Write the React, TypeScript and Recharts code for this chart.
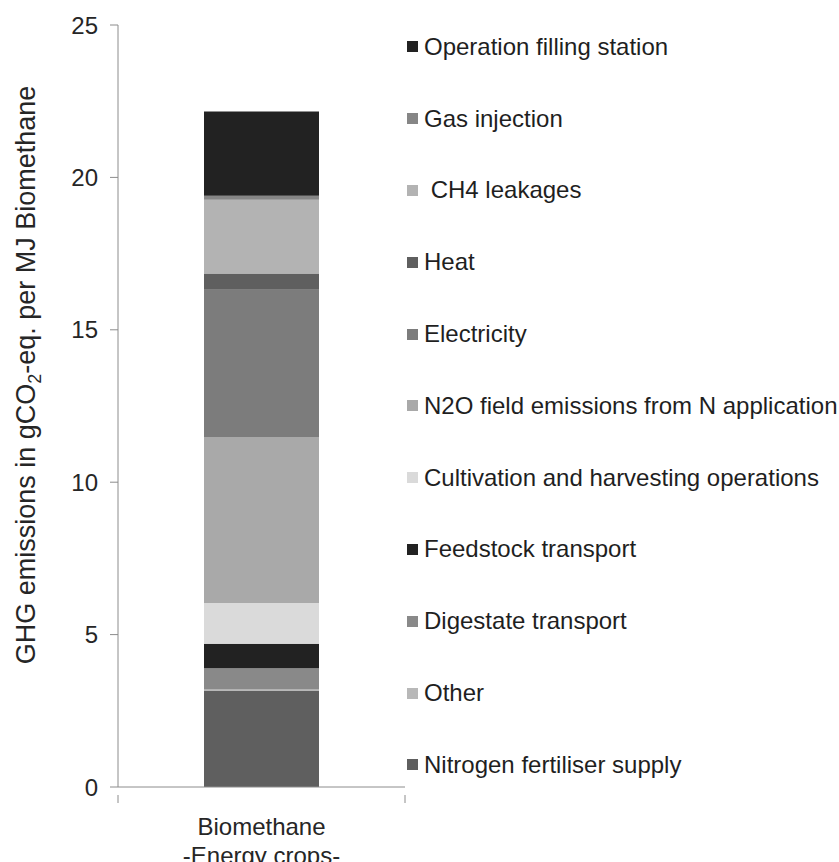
import React from "react";
import { BarChart, Bar, XAxis, YAxis, Legend } from "recharts";

const categories = ["Biomethane|-Energy crops-"];

// stack order: bottom to top
const seriesKeys = [
  "nitrogenFertiliser",
  "other",
  "digestateTransport",
  "feedstockTransport",
  "cultivation",
  "n2o",
  "electricity",
  "heat",
  "ch4",
  "gasInjection",
  "operationFillingStation",
];
const seriesNames = [
  "Nitrogen fertiliser supply",
  "Other",
  "Digestate transport",
  "Feedstock transport",
  "Cultivation and harvesting operations",
  "N2O field emissions from N application",
  "Electricity",
  "Heat",
  " CH4 leakages",
  "Gas injection",
  "Operation filling station",
];
const seriesValues = [3.15, 0.05, 0.7, 0.8, 1.34, 5.44, 4.83, 0.54, 2.42, 0.13, 2.76];
const seriesColors = [
  "#5f5f5f",
  "#b8b8b8",
  "#898989",
  "#222222",
  "#dadada",
  "#a9a9a9",
  "#7c7c7c",
  "#5f5f5f",
  "#b3b3b3",
  "#868686",
  "#222222",
];
const yTicks = [0, 5, 10, 15, 20, 25];

const data = categories.map((c) => {
  const row: Record<string, any> = { category: c };
  seriesKeys.forEach((k, i) => {
    row[k] = seriesValues[i];
  });
  return row;
});

const FONT = "'Liberation Sans', Arial, sans-serif";
const AXIS = "#8c8c8c";
const TEXT = "#262626";

const CategoryTick = (props: any) => {
  const { x, y, payload } = props;
  const half = payload && typeof payload.offset === "number" && payload.offset > 0 ? payload.offset : 143.5;
  const lines = String(payload.value).split("|");
  return (
    <g>
      <line x1={x - half} y1={y} x2={x - half} y2={y + 8} stroke={AXIS} strokeWidth={1} />
      <line x1={x + half} y1={y} x2={x + half} y2={y + 8} stroke={AXIS} strokeWidth={1} />
      <text x={x} y={y + 40} textAnchor="middle" fontFamily={FONT} fontSize={24} fill={TEXT}>
        {lines.map((l, i) => (
          <tspan key={i} x={x} dy={i === 0 ? 0 : 29}>
            {l}
          </tspan>
        ))}
      </text>
    </g>
  );
};

const YLabel = (props: any) => {
  const vb = props.viewBox || { x: 0 };
  const cx = vb.x + 35;
  const cy = 375;
  return (
    <text
      x={cx}
      y={cy}
      transform={`rotate(-90 ${cx} ${cy})`}
      textAnchor="middle"
      fontFamily={FONT}
      fontSize={27}
      fill={TEXT}
    >
      <tspan>GHG emissions in gCO</tspan>
      <tspan fontSize={18} dy={6}>2</tspan>
      <tspan dy={-6}>-eq. per MJ Biomethane</tspan>
    </text>
  );
};

const LegendContent = () => {
  const order = seriesKeys.map((_, i) => i).reverse();
  return (
    <div style={{ paddingTop: 11, paddingLeft: 2, fontFamily: FONT, fontSize: 24, color: "#1f1f1f" }}>
      {order.map((i) => (
        <div key={seriesKeys[i]} style={{ height: 71.8, display: "flex", alignItems: "center" }}>
          <span
            style={{
              display: "inline-block",
              width: 11,
              height: 11,
              background: seriesColors[i],
              marginRight: 6,
              flex: "none",
            }}
          />
          <span style={{ whiteSpace: "pre", lineHeight: "28px" }}>{seriesNames[i]}</span>
        </div>
      ))}
    </div>
  );
};

export default function App() {
  return (
    <div style={{ position: "absolute", left: 0, top: 0, width: 839, height: 862, background: "#fff" }}>
      <BarChart
        width={839}
        height={862}
        data={data}
        margin={{ top: 25, right: 0, bottom: 0, left: 0 }}
        barSize={115}
      >
        <XAxis
          dataKey="category"
          height={75}
          axisLine={{ stroke: AXIS }}
          tickLine={false}
          tick={<CategoryTick />}
          interval={0}
        />
        <YAxis
          width={118}
          domain={[0, 25]}
          ticks={yTicks}
          interval={0}
          axisLine={{ stroke: AXIS }}
          tickLine={{ stroke: AXIS }}
          tickSize={8}
          tickMargin={12}
          tick={{ fontFamily: FONT, fontSize: 24, fill: TEXT }}
          label={<YLabel />}
        />
        <Legend
          layout="vertical"
          align="right"
          verticalAlign="top"
          wrapperStyle={{ top: 0, right: 0, width: 434, height: 862 }}
          content={<LegendContent />}
        />
        {seriesKeys.map((k, i) => (
          <Bar
            key={k}
            dataKey={k}
            name={seriesNames[i]}
            stackId="a"
            fill={seriesColors[i]}
            isAnimationActive={false}
          />
        ))}
      </BarChart>
    </div>
  );
}
